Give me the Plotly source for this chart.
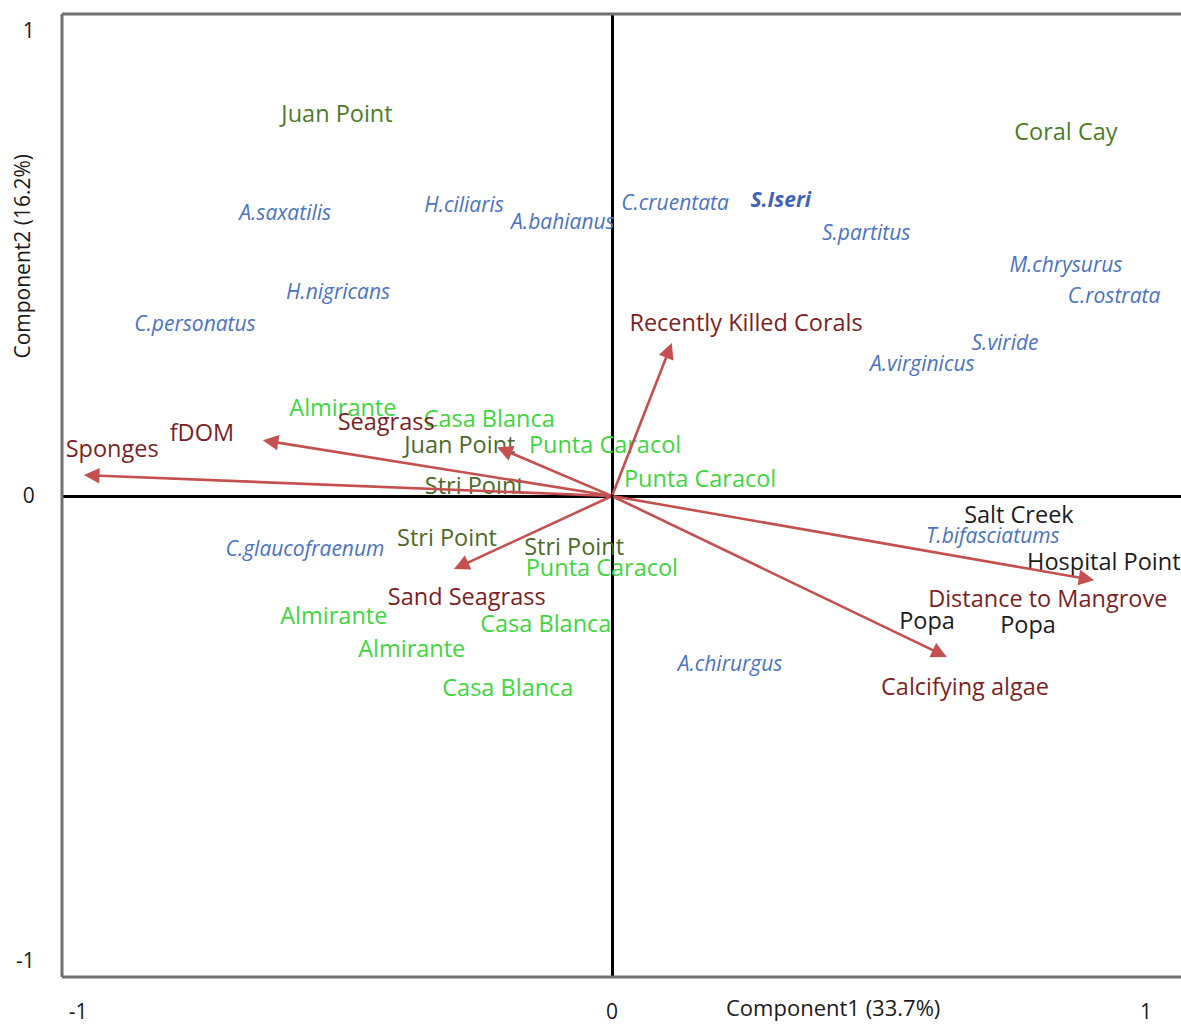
import plotly.graph_objects as go

# --- PCA scores: sampling sites (labels placed at their score coordinates) ---
reef_sites = ["Juan Point", "Coral Cay"]
reef_x = [-0.515, 0.850]
reef_y = [0.818, 0.779]

stri_sites = ["Juan Point", "Stri Point", "Stri Point", "Stri Point"]
stri_x = [-0.285, -0.257, -0.309, -0.071]
stri_y = [0.106, 0.018, -0.094, -0.114]

bay_sites = ["Almirante", "Casa Blanca", "Punta Caracol", "Punta Caracol",
             "Punta Caracol", "Almirante", "Casa Blanca", "Almirante", "Casa Blanca"]
bay_x = [-0.504, -0.230, -0.013, 0.165, -0.019, -0.521, -0.124, -0.375, -0.195]
bay_y = [0.185, 0.160, 0.106, 0.031, -0.159, -0.262, -0.279, -0.333, -0.417]

mangrove_sites = ["Salt Creek", "Hospital Point", "Popa", "Popa"]
mangrove_x = [0.762, 0.921, 0.590, 0.779]
mangrove_y = [-0.045, -0.146, -0.273, -0.281]

# --- Fish species ---
species = ["A.saxatilis", "H.ciliaris", "A.bahianus", "C.cruentata", "S.partitus",
           "M.chrysurus", "C.rostrata", "H.nigricans", "C.personatus", "S.viride",
           "A.virginicus", "C.glaucofraenum", "T.bifasciatums", "A.chirurgus"]
species_x = [-0.612, -0.277, -0.092, 0.118, 0.476, 0.850, 0.940, -0.513, -0.781,
             0.736, 0.581, -0.575, 0.713, 0.221]
species_y = [0.604, 0.623, 0.586, 0.627, 0.561, 0.494, 0.427, 0.434, 0.367,
             0.326, 0.281, -0.117, -0.089, -0.364]

key_species = ["S.Iseri"]
key_species_x = [0.316]
key_species_y = [0.632]

# --- Environmental variables: loading vectors and their label positions ---
variables = ["Sponges", "fDOM", "Seagrass", "Recently Killed Corals",
             "Sand Seagrass", "Distance to Mangrove", "Calcifying algae"]
load_x = [-0.989, -0.654, -0.215, 0.112, -0.296, 0.903, 0.627]
load_y = [0.045, 0.120, 0.105, 0.329, -0.157, -0.181, -0.346]
label_x = [-0.936, -0.768, -0.423, 0.251, -0.272, 0.816, 0.661]
label_y = [0.097, 0.132, 0.155, 0.368, -0.221, -0.225, -0.415]

x_ticks = [-1, 0, 1]
y_ticks = [-1, 0, 1]

FONT = "Open Sans"
SITE_SIZE = 23.5
SPECIES_SIZE = 21
fig = go.Figure()


def add_labels(names, xs, ys, color, size, italic=False, bold=False):
    texts = names
    if bold:
        texts = ["<b>%s</b>" % t for t in texts]
    fig.add_trace(go.Scatter(
        x=xs, y=ys, text=texts, mode="text", textposition="middle center",
        textfont=dict(family=FONT, size=size, color=color,
                      style="italic" if italic else "normal"),
        hoverinfo="text", showlegend=False, cliponaxis=False))


# loading arrows from the origin
for i, v in enumerate(variables):
    fig.add_annotation(x=load_x[i], y=load_y[i], ax=0, ay=0,
                       xref="x", yref="y", axref="x", ayref="y",
                       text="", showarrow=True, arrowhead=2, arrowsize=1.2,
                       arrowwidth=2.6, arrowcolor="#c4504f", standoff=0)

add_labels(species, species_x, species_y, "#4b73c2", SPECIES_SIZE, italic=True)
add_labels(key_species, key_species_x, key_species_y, "#3d64b8", SPECIES_SIZE,
           italic=True, bold=True)
add_labels(reef_sites, reef_x, reef_y, "#4f7b27", SITE_SIZE)
add_labels(stri_sites, stri_x, stri_y, "#4c6a2a", SITE_SIZE)
add_labels(bay_sites, bay_x, bay_y, "#3fd63f", SITE_SIZE)
add_labels(mangrove_sites, mangrove_x, mangrove_y, "#1c1c1c", SITE_SIZE)
add_labels(variables, label_x, label_y, "#7c1f25", SITE_SIZE)

fig.add_annotation(text="Component1 (33.7%)", x=0.414, y=-1.0344, xref="x", yref="y",
                   yshift=-30, showarrow=False,
                   font=dict(family=FONT, size=22, color="#1a1a1a"))
fig.add_annotation(text="Component2 (16.2%)", x=-1.03, y=0.515, xref="x", yref="y",
                   xshift=-40, textangle=-90, showarrow=False,
                   font=dict(family=FONT, size=21, color="#1a1a1a"))

# plot frame (left, top, bottom)
for (x0, y0, x1, y1) in [(0, 0, 0, 1), (0, 1, 1, 1), (0, 0, 1, 0)]:
    fig.add_shape(type="line", xref="paper", yref="paper", x0=x0, y0=y0, x1=x1, y1=y1,
                  line=dict(color="#707070", width=3))

fig.update_xaxes(range=[-1.03, 1.0655], tickvals=x_ticks, ticktext=["-1", "0", "1"],
                 showgrid=False, zeroline=True, zerolinecolor="#000000", zerolinewidth=3,
                 ticks="outside", ticklen=16, tickcolor="rgba(0,0,0,0)", automargin=False,
                 tickfont=dict(family=FONT, size=21, color="#1a1a1a"), showline=False)
fig.update_yaxes(range=[-1.0344, 1.0366], tickvals=y_ticks, ticktext=["-1", "0", "1"],
                 showgrid=False, zeroline=True, zerolinecolor="#000000", zerolinewidth=3,
                 ticks="outside", ticklen=22, tickcolor="rgba(0,0,0,0)", automargin=False,
                 tickfont=dict(family=FONT, size=21, color="#1a1a1a"), showline=False)

fig.update_layout(width=1181, height=1024, margin=dict(l=62, r=0, t=14, b=47),
                  plot_bgcolor="white", paper_bgcolor="white", showlegend=False)

fig.write_html("out.html")
